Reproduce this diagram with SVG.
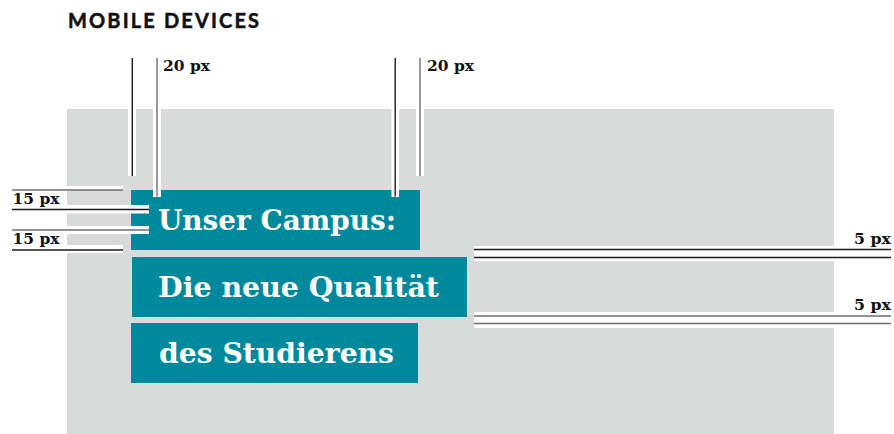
<svg xmlns="http://www.w3.org/2000/svg" width="894" height="434" viewBox="0 0 894 434">
  <style>
    .title { font-family: Lato, "Liberation Sans", sans-serif; font-weight: 700; font-size: 20px; fill: #111; stroke: #111; stroke-width: 0.5px; }
    .box { fill: #00889D; }
    .headline { font-family: "DejaVu Serif", "Liberation Serif", serif; font-weight: 700; font-size: 28px; fill: #ffffff; }
    .dim { font-family: "DejaVu Serif", "Liberation Serif", serif; font-weight: 700; font-size: 14px; fill: #111; }
    .gap { fill: #ffffff; }
    .ink { stroke: #1a1a1a; stroke-width: 1.4; fill: none; }
    .soft { stroke: #6e6e6e; stroke-width: 1.4; fill: none; }
  </style>

  <rect width="894" height="434" fill="#ffffff"/>
  <text class="title" x="68" y="28" textLength="191" lengthAdjust="spacing">MOBILE DEVICES</text>

  <!-- screen area -->
  <rect id="screen" x="67" y="109" width="767" height="325" fill="#D9DADA"/>

  <!-- headline blocks -->
  <g id="line1">
    <rect class="box" x="131" y="190" width="289" height="60"/>
    <text class="headline" x="158" y="230" textLength="238" lengthAdjust="spacingAndGlyphs">Unser Campus:</text>
  </g>
  <g id="line2">
    <rect class="box" x="132" y="257" width="335" height="60"/>
    <text class="headline" x="158" y="297" textLength="281" lengthAdjust="spacingAndGlyphs">Die neue Qualität</text>
  </g>
  <g id="line3">
    <rect class="box" x="131" y="323" width="287" height="60"/>
    <text class="headline" x="159" y="363" textLength="235" lengthAdjust="spacingAndGlyphs">des Studierens</text>
  </g>

  <!-- dimension lines -->
  <g id="connectors">
    <!-- white clearances behind the rules -->
    <rect class="gap" x="128" y="58" width="8" height="118"/>
    <rect class="gap" x="153" y="58" width="8" height="139"/>
    <rect class="gap" x="391.5" y="58" width="7.5" height="139"/>
    <rect class="gap" x="416" y="58" width="8" height="118"/>

    <rect class="gap" x="12" y="186" width="111" height="4"/>
    <rect class="gap" x="12" y="205" width="137" height="8.5"/>
    <rect class="gap" x="12" y="226" width="137" height="8"/>
    <rect class="gap" x="12" y="245" width="111" height="8"/>

    <rect class="gap" x="474" y="246" width="417" height="15"/>
    <rect class="gap" x="474" y="312" width="417" height="16"/>

    <!-- horizontal padding: 20 px -->
    <line class="ink" x1="132.3" y1="58" x2="132.3" y2="176"/>
    <line class="soft" x1="157" y1="58" x2="157" y2="196.5"/>
    <line class="ink" x1="395.2" y1="58" x2="395.2" y2="196.5"/>
    <line class="soft" x1="420" y1="58" x2="420" y2="176"/>

    <!-- vertical padding: 15 px -->
    <line class="soft" x1="12" y1="190" x2="123" y2="190"/>
    <line class="ink" x1="12" y1="209.5" x2="149" y2="209.5"/>
    <line class="soft" x1="12" y1="230" x2="149" y2="230"/>
    <line class="ink" x1="12" y1="250" x2="123" y2="250"/>

    <!-- line spacing: 5 px -->
    <line class="ink" x1="474" y1="249.5" x2="891" y2="249.5"/>
    <line class="ink" x1="474" y1="257.5" x2="891" y2="257.5"/>
    <line class="soft" x1="474" y1="316" x2="891" y2="316"/>
    <line class="soft" x1="474" y1="323.5" x2="891" y2="323.5"/>
  </g>

  <!-- measurement labels -->
  <g id="labels">
    <text class="dim" x="163" y="71" textLength="47" lengthAdjust="spacingAndGlyphs">20 px</text>
    <text class="dim" x="427" y="71" textLength="47" lengthAdjust="spacingAndGlyphs">20 px</text>
    <text class="dim" x="12.5" y="204" textLength="47" lengthAdjust="spacingAndGlyphs">15 px</text>
    <text class="dim" x="12.5" y="244" textLength="47" lengthAdjust="spacingAndGlyphs">15 px</text>
    <text class="dim" x="854" y="244" textLength="37" lengthAdjust="spacingAndGlyphs">5 px</text>
    <text class="dim" x="854" y="310" textLength="37" lengthAdjust="spacingAndGlyphs">5 px</text>
  </g>
</svg>
